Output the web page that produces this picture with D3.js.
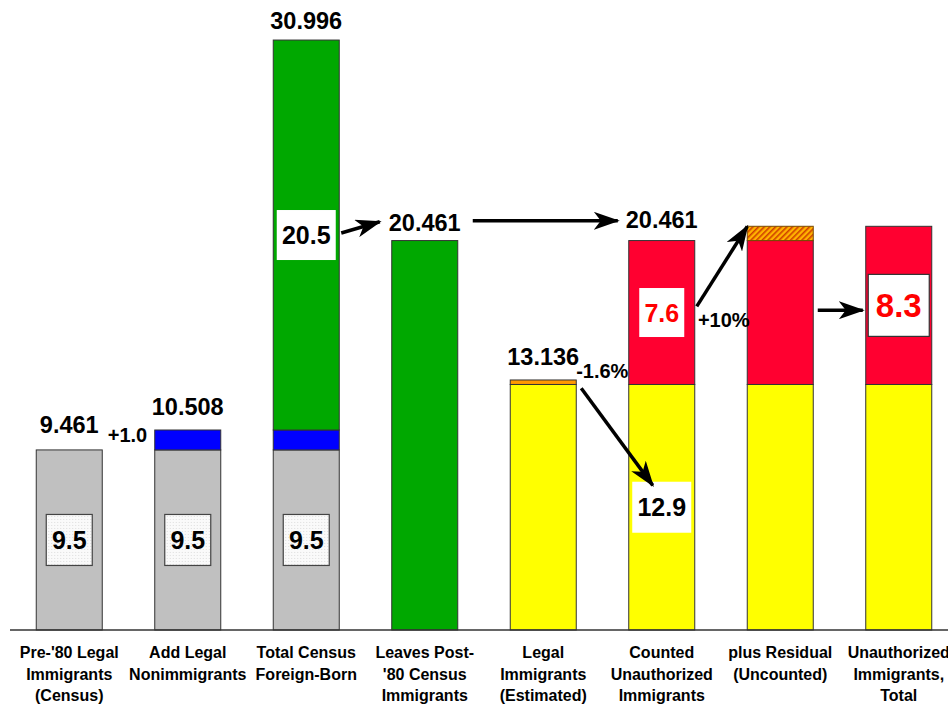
<!DOCTYPE html>
<html>
<head>
<meta charset="utf-8">
<script src="https://cdn.jsdelivr.net/npm/d3@7"></script>
<style>
  html, body { margin: 0; padding: 0; background: #fff; }
  svg { display: block; font-family: "Liberation Sans", Arial, sans-serif; font-weight: bold; }
</style>
</head>
<body>
<svg id="chart" width="948" height="704"></svg>
<script>
// ---------- DATA ----------
const categories = [
  ["Pre-'80 Legal", "Immigrants", "(Census)"],
  ["Add Legal", "Nonimmigrants"],
  ["Total Census", "Foreign-Born"],
  ["Leaves Post-", "'80 Census", "Immigrants"],
  ["Legal", "Immigrants", "(Estimated)"],
  ["Counted", "Unauthorized", "Immigrants"],
  ["plus Residual", "(Uncounted)"],
  ["Unauthorized", "Immigrants,", "Total"]
];
const grayVals     = [9.461, 9.461, 9.461, 0, 0, 0, 0, 0];
const blueVals     = [0, 1.047, 1.047, 0, 0, 0, 0, 0];
const greenVals    = [0, 0, 20.488, 20.461, 0, 0, 0, 0];
const yellowVals   = [0, 0, 0, 0, 12.9, 12.9, 12.9, 12.9];
const orangeVals   = [0, 0, 0, 0, 0.236, 0, 0, 0];
const redVals      = [0, 0, 0, 0, 0, 7.561, 7.561, 8.31];
const residualVals = [0, 0, 0, 0, 0, 0, 0.75, 0];
const totalLabels  = ["9.461", "10.508", "30.996", "20.461", "13.136", "20.461", "", ""];
const boxLabels = [
  { bar: 0, seg: "gray",  text: "9.5" },
  { bar: 1, seg: "gray",  text: "9.5" },
  { bar: 2, seg: "gray",  text: "9.5" },
  { bar: 2, seg: "green", text: "20.5" },
  { bar: 5, seg: "yellow", text: "12.9" },
  { bar: 5, seg: "red",   text: "7.6" },
  { bar: 7, seg: "red",   text: "8.3" }
];
const changeLabels = ["+1.0", "-1.6%", "+10%"];

// ---------- LAYOUT ----------
const W = 948, H = 704;
const baseY = 630;
const svg = d3.select("#chart");

const x = d3.scaleBand().domain(d3.range(categories.length)).range([10, 958]).paddingInner(0.443).paddingOuter(0.2215);
const y = d3.scaleLinear().domain([0, 33.1]).range([baseY, 0]);
const bw = x.bandwidth();
const cx = i => x(i) + bw / 2;

const keys = ["gray", "blue", "green", "yellow", "orange", "red", "residual"];
const table = categories.map((c, i) => ({
  gray: grayVals[i], blue: blueVals[i], green: greenVals[i], yellow: yellowVals[i],
  orange: orangeVals[i], red: redVals[i], residual: residualVals[i]
}));
const stack = d3.stack().keys(keys)(table);
const segOf = {};
stack.forEach(s => { segOf[s.key] = s; });

const defs = svg.append("defs");
const hatch = defs.append("pattern").attr("id", "hatch").attr("patternUnits", "userSpaceOnUse")
  .attr("width", 4).attr("height", 4).attr("patternTransform", "rotate(45)");
hatch.append("rect").attr("width", 4).attr("height", 4).attr("fill", "#ffb300");
hatch.append("rect").attr("width", 1.6).attr("height", 4).attr("fill", "#d04000");

const stip = defs.append("pattern").attr("id", "stip").attr("patternUnits", "userSpaceOnUse")
  .attr("width", 3).attr("height", 3);
stip.append("rect").attr("width", 3).attr("height", 3).attr("fill", "#fafafa");
stip.append("rect").attr("width", 1).attr("height", 1).attr("fill", "#dcdcdc");

const marker = defs.append("marker").attr("id", "arrow").attr("markerUnits", "userSpaceOnUse")
  .attr("viewBox", "0 0 26 18").attr("refX", 24).attr("refY", 9)
  .attr("markerWidth", 26).attr("markerHeight", 18).attr("orient", "auto");
marker.append("path").attr("d", "M0,0 L26,9 L0,18 L7,9 Z").attr("fill", "#000");

const colors = {
  gray: "#c0c0c0", blue: "#0000ff", green: "#00a800", yellow: "#ffff00",
  orange: "#ff9900", red: "#ff0030", residual: "url(#hatch)"
};

// bars
stack.forEach(s => {
  svg.append("g").selectAll("rect").data(s.map((d, i) => ({ d, i })).filter(o => o.d[1] - o.d[0] > 0))
    .join("rect")
    .attr("x", o => x(o.i))
    .attr("y", o => y(o.d[1]))
    .attr("width", bw)
    .attr("height", o => y(o.d[0]) - y(o.d[1]))
    .attr("fill", colors[s.key])
    .attr("stroke", s.key === "residual" ? "#7a4a00" : "#333")
    .attr("stroke-width", 1);
});

// axis baseline
svg.append("line").attr("x1", 10).attr("x2", W).attr("y1", baseY).attr("y2", baseY)
  .attr("stroke", "#333").attr("stroke-width", 1.5);

// category labels
const xAxis = d3.axisBottom(x).tickSize(0).tickFormat(() => "");
const ag = svg.append("g").attr("transform", `translate(0,${baseY})`).call(xAxis);
ag.select(".domain").remove();
ag.selectAll(".tick").each(function (i) {
  const t = d3.select(this).select("text").attr("y", 0).attr("dy", null)
    .attr("font-family", "'Liberation Sans', Arial, sans-serif")
    .attr("font-size", 16).attr("font-weight", "bold").attr("fill", "#000");
  categories[i].forEach((line, k) => {
    t.append("tspan").attr("x", 0).attr("y", 28 + k * 21.5).text(line);
  });
});

// totals above bars
const totalTop = table.map((d, i) => d3.sum(keys, k => d[k]));
const labelDy = [-17, -15, -11, -10, -15, -13, 0, 0];
svg.append("g").selectAll("text").data(totalLabels.map((t, i) => ({ t, i })).filter(o => o.t))
  .join("text")
  .attr("x", o => cx(o.i)).attr("y", o => y(totalTop[o.i]) + labelDy[o.i])
  .attr("text-anchor", "middle").attr("font-size", 23.5).text(o => o.t);

// box labels
const boxSize = {
  "9.5": [46, 51, 25, "#000", "url(#stip)", "#444"],
  "20.5": [59, 50, 25, "#000", "#fff", "none"],
  "12.9": [59, 51, 25, "#000", "#fff", "none"],
  "7.6": [45, 49, 25, "#ff0000", "#fff", "none"],
  "8.3": [61, 62, 33, "#ff0000", "#fff", "#333"]
};
boxLabels.forEach(b => {
  const s = segOf[b.seg][b.bar];
  const my = y((s[0] + s[1]) / 2);
  const [bwid, bh, fs, tc, fill, stroke] = boxSize[b.text];
  const g = svg.append("g").attr("transform", `translate(${cx(b.bar)},${my})`);
  g.append("rect").attr("x", -bwid / 2).attr("y", -bh / 2).attr("width", bwid).attr("height", bh)
    .attr("fill", fill).attr("stroke", stroke).attr("stroke-width", 1.2);
  g.append("text").attr("text-anchor", "middle").attr("dy", "0.36em")
    .attr("font-size", fs).attr("fill", tc).text(b.text);
});

// change labels
const chg = [
  { t: changeLabels[0], xx: (cx(0) + cx(1)) / 2 - 1, yy: 442 },
  { t: changeLabels[1], xx: x(4) + bw + 26, yy: 378 },
  { t: changeLabels[2], xx: x(5) + bw + 29, yy: 327 }
];
svg.append("g").selectAll("text").data(chg).join("text")
  .attr("x", d => d.xx).attr("y", d => d.yy).attr("text-anchor", "middle")
  .attr("font-size", 20).text(d => d.t);

// arrows
const g2 = segOf.green[2];
const arrows = [
  [x(2) + bw + 2, y((g2[0] + g2[1]) / 2) - 2, x(3) - 12, y(21.45)],
  [cx(3) + 48, y(21.5), cx(5) - 44, y(21.5)],
  [x(4) + bw + 5, y(12.7), cx(5) - 9, y(7.6)],
  [x(5) + bw + 2, y(17.0), x(6), y(21.2)],
  [x(7) - 48, y(16.8), x(7) - 3, y(16.8)]
];
svg.append("g").selectAll("line").data(arrows).join("line")
  .attr("x1", d => d[0]).attr("y1", d => d[1]).attr("x2", d => d[2]).attr("y2", d => d[3])
  .attr("stroke", "#000").attr("stroke-width", 3.5).attr("marker-end", "url(#arrow)");
</script>
</body>
</html>
